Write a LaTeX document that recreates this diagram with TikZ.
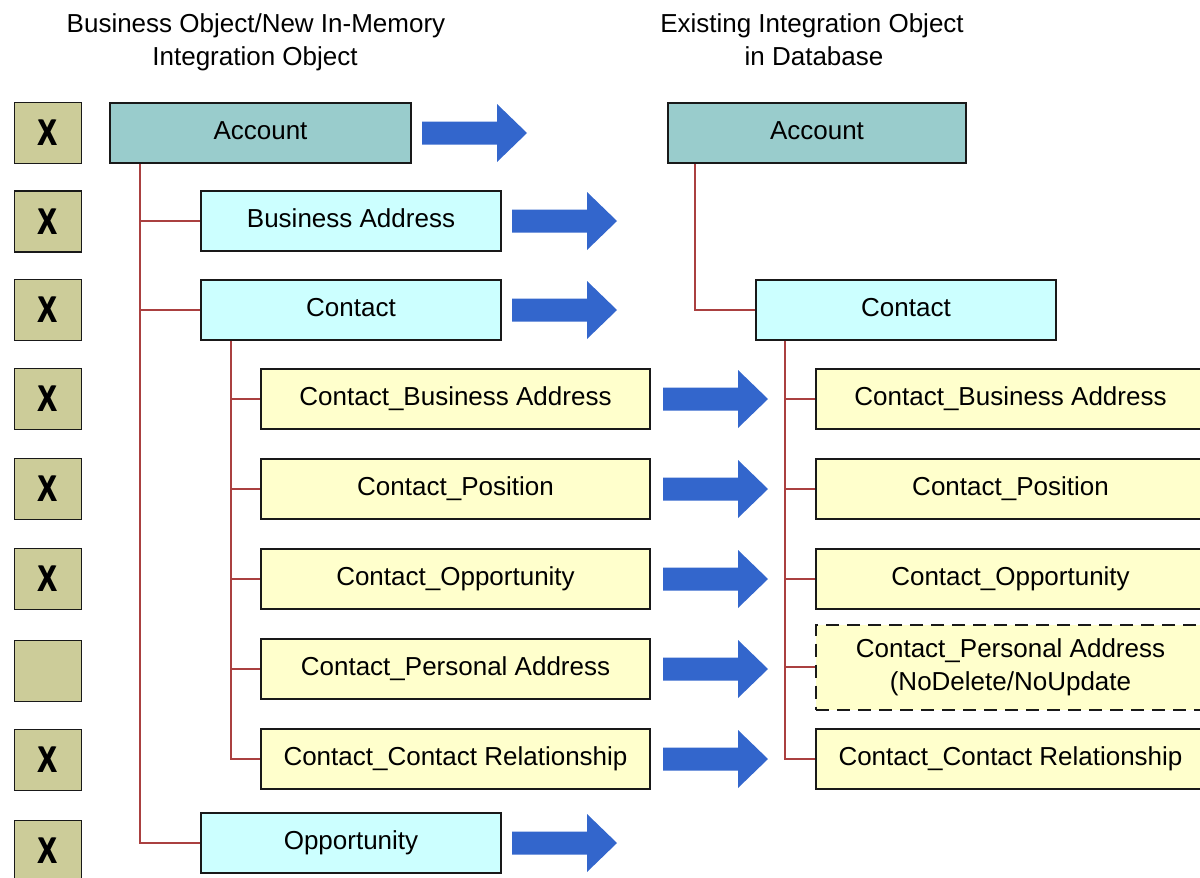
\documentclass[tikz,border=0pt]{standalone}
\usepackage{fontspec}
\setmainfont{Liberation Sans}[BoldFont={Liberation Sans Bold}]
\usetikzlibrary{calc}
\definecolor{tealbox}{RGB}{153,204,204}
\definecolor{cyanbox}{RGB}{204,255,255}
\definecolor{yellowbox}{RGB}{255,255,204}
\definecolor{khaki}{RGB}{204,204,153}
\definecolor{arrowblue}{RGB}{51,102,204}
\definecolor{treered}{RGB}{170,64,64}
\tikzset{
  basebox/.style={draw=black!90, line width=1.8pt, inner sep=0pt, text height=19pt, text depth=6pt,
    font=\fontsize{26}{31}\selectfont, minimum height=60pt},
  tealnode/.style={basebox, fill=tealbox},
  cyannode/.style={basebox, fill=cyanbox, minimum width=300pt},
  yellownode/.style={basebox, fill=yellowbox, minimum width=389pt},
  xbox/.style={draw=black!90, line width=1.8pt, fill=khaki, minimum width=67pt, minimum height=61pt, inner sep=0pt,
    font=\bfseries\fontsize{37}{37}\selectfont},
  hdr/.style={anchor=base, inner sep=0pt, font=\fontsize{26}{31}\selectfont},
  tree/.style={draw=treered, line width=1.6pt},
  bigarrow/.style={fill=arrowblue}
}
\newcommand\blockarrow[2]{\fill[bigarrow] (#1,#2-11.5) -- (#1+75,#2-11.5) -- (#1+75,#2-29) -- (#1+105,#2) -- (#1+75,#2+29) -- (#1+75,#2+11.5) -- (#1,#2+11.5) -- cycle;}
\newcommand\xmark{\scalebox{0.78}[1]{\rlap{X}\hspace{1.5pt}X}}
\begin{document}
\begin{tikzpicture}[x=1pt,y=-1pt]
\useasboundingbox (0,0) rectangle (1200,878);
% headers
\node[hdr] (hl1) at (256,32) {Business Object/New In-Memory};
\node[hdr] (hl2) at (255,65) {Integration Object};
\node[hdr] (hr1) at (812,32) {Existing Integration Object};
\node[hdr] (hr2) at (814,65) {in Database};
% X boxes
\node[xbox] (x1) at (48,133) {\xmark};
\node[xbox] (x2) at (48,221.5) {\xmark};
\node[xbox] (x3) at (48,310) {\xmark};
\node[xbox] (x4) at (48,399) {\xmark};
\node[xbox] (x5) at (48,489) {\xmark};
\node[xbox] (x6) at (48,579) {\xmark};
\node[xbox] (x7) at (48,671) {};
\node[xbox] (x8) at (48,760) {\xmark};
\node[xbox] (x9) at (48,851) {\xmark};
% left tree
\node[tealnode, minimum width=301pt] (accL) at (260.5,133) {Account};
\node[cyannode] (baL) at (351,221) {Business Address};
\node[cyannode] (conL) at (351,310) {Contact};
\node[yellownode] (cbaL) at (455.5,399) {Contact\_Business Address};
\node[yellownode] (cpoL) at (455.5,489) {Contact\_Position};
\node[yellownode] (copL) at (455.5,579) {Contact\_Opportunity};
\node[yellownode] (cpaL) at (455.5,669) {Contact\_Personal Address};
\node[yellownode] (ccrL) at (455.5,759) {Contact\_Contact Relationship};
\node[cyannode] (oppL) at (351,843) {Opportunity};
% right tree
\node[tealnode, minimum width=298pt] (accR) at (817,133) {Account};
\node[cyannode] (conR) at (906,310) {Contact};
\node[yellownode] (cbaR) at (1010.5,399) {Contact\_Business Address};
\node[yellownode] (cpoR) at (1010.5,489) {Contact\_Position};
\node[yellownode] (copR) at (1010.5,579) {Contact\_Opportunity};
\node[yellownode, dashed, dash pattern=on 13pt off 8pt, line width=2pt, minimum height=85pt, text height=, text depth=, align=center,
  font=\fontsize{26}{33}\selectfont] (cpaR) at (1010.5,667) {Contact\_Personal Address\\(NoDelete/NoUpdate};
\node[yellownode] (ccrR) at (1010.5,759) {Contact\_Contact Relationship};
% tree connectors
\coordinate (tA) at ($(accL.south west)+(31,0)$);
\coordinate (tC) at ($(conL.south west)+(31,0)$);
\coordinate (tRA) at ($(accR.south west)+(28,0)$);
\coordinate (tRC) at ($(conR.south west)+(30,0)$);
\draw[tree] (tA) |- (baL.west);
\draw[tree] (tA) |- (conL.west);
\draw[tree] (tA) |- (oppL.west);
\foreach \n in {cbaL,cpoL,copL,cpaL,ccrL} {\draw[tree] (tC) |- (\n.west);}
\draw[tree] (tRA) |- (conR.west);
\foreach \n in {cbaR,cpoR,copR,cpaR,ccrR} {\draw[tree] (tRC) |- (\n.west);}
% block arrows
\blockarrow{422}{133}
\blockarrow{512}{221}
\blockarrow{512}{310}
\blockarrow{663}{399}
\blockarrow{663}{489}
\blockarrow{663}{579}
\blockarrow{663}{669}
\blockarrow{663}{759}
\blockarrow{512}{843}
\end{tikzpicture}
\end{document}
